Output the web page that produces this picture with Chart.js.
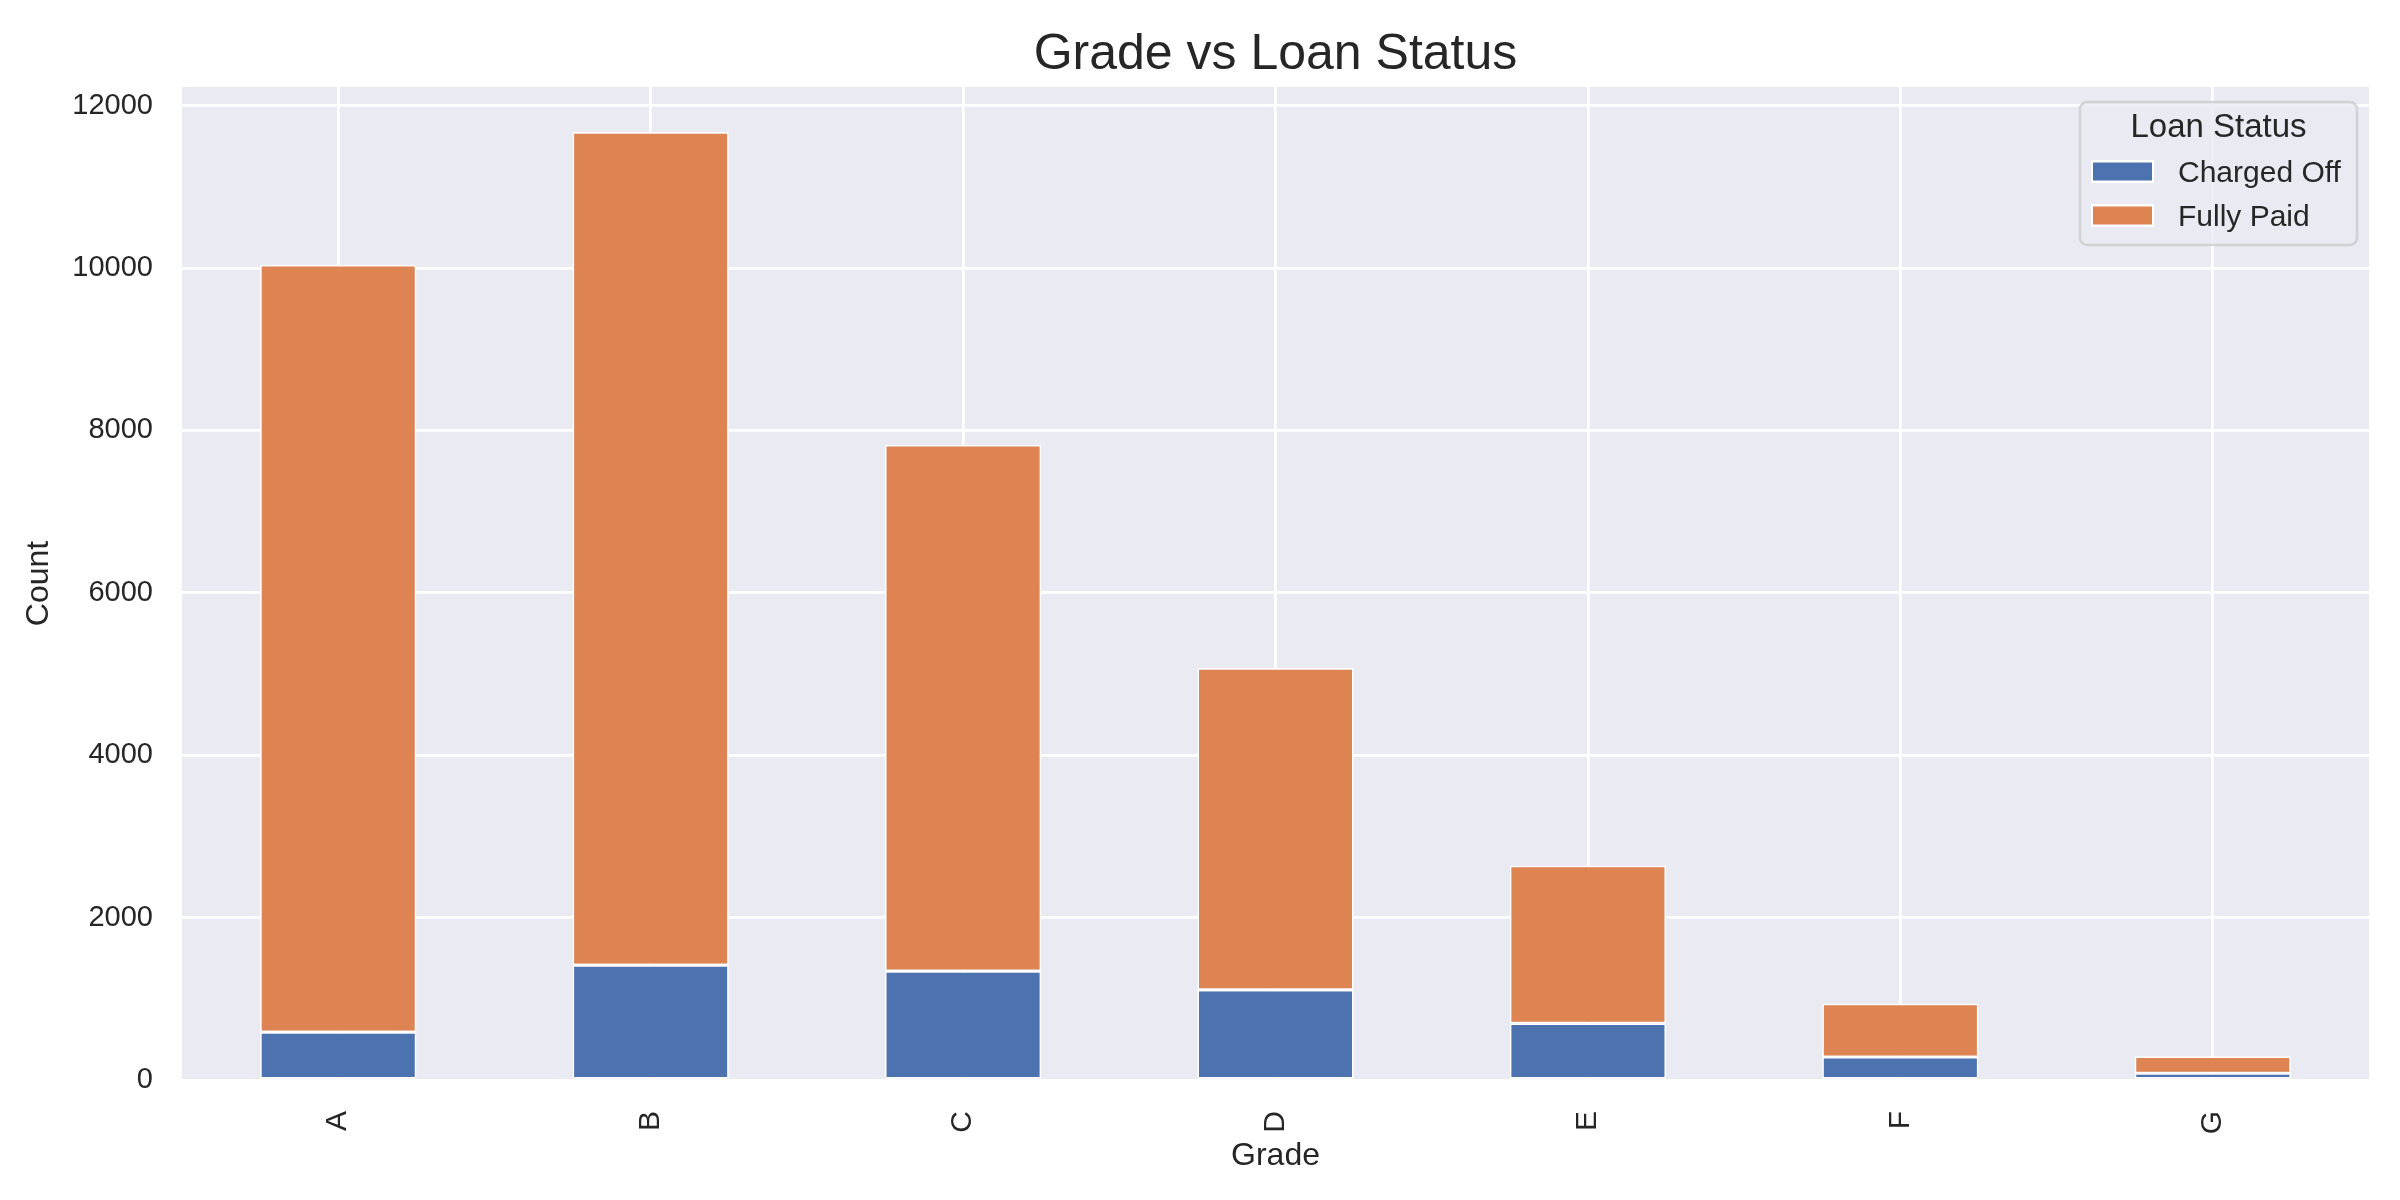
<!DOCTYPE html>
<html>
<head>
<meta charset="utf-8">
<script src="https://cdn.jsdelivr.net/npm/chart.js@4.4.1/dist/chart.umd.min.js"></script>
<style>
  html, body { margin: 0; padding: 0; background: #ffffff; }
  #wrap { width: 2400px; height: 1200px; }
  canvas { display: block; }
</style>
</head>
<body>
<div id="wrap"><canvas id="c" width="2400" height="1200" style="width:2400px;height:1200px"></canvas></div>
<script>
const categories = ['A', 'B', 'C', 'D', 'E', 'F', 'G'];
const chargedOff = [590, 1416, 1342, 1109, 698, 283, 83];
const fullyPaid = [9450, 10259, 6480, 3964, 1943, 657, 209];
const seriesNames = ['Charged Off', 'Fully Paid'];
const chartTitle = 'Grade vs Loan Status';
const legendTitle = 'Loan Status';
const yTickValues = [0, 2000, 4000, 6000, 8000, 10000, 12000];
const yMax = 12230;

const FONT = '"Liberation Sans", Arial, Helvetica, sans-serif';
const TEXT = '#262626';
const BLUE = '#4C72B0';
const ORANGE = '#DD8452';
const BG = '#EAEAF2';

const bgPlugin = {
  id: 'plotBg',
  beforeDraw(chart) {
    const { ctx, chartArea: a } = chart;
    ctx.save();
    ctx.fillStyle = BG;
    ctx.fillRect(a.left, a.top, a.right - a.left, a.bottom - a.top);
    ctx.restore();
  }
};

const titlePlugin = {
  id: 'axesTitle',
  afterDraw(chart) {
    const { ctx, chartArea: a } = chart;
    ctx.save();
    ctx.fillStyle = TEXT;
    ctx.font = '50px ' + FONT;
    ctx.textAlign = 'center';
    ctx.textBaseline = 'alphabetic';
    ctx.fillText(chartTitle, (a.left + a.right) / 2, 69);
    ctx.restore();
  }
};

const legendPlugin = {
  id: 'mplLegend',
  afterDraw(chart) {
    const { ctx, chartArea: a } = chart;
    const w = 277, h = 143;
    const x = a.right - 12 - w, y = a.top + 15;
    ctx.save();
    ctx.beginPath();
    ctx.roundRect(x, y, w, h, 7);
    ctx.fillStyle = 'rgba(234,234,242,0.8)';
    ctx.fill();
    ctx.lineWidth = 2.5;
    ctx.strokeStyle = 'rgba(204,204,204,0.8)';
    ctx.stroke();
    ctx.fillStyle = TEXT;
    ctx.textBaseline = 'alphabetic';
    ctx.textAlign = 'center';
    ctx.font = '33px ' + FONT;
    ctx.fillText(legendTitle, x + w / 2, y + 35);
    ctx.textAlign = 'left';
    ctx.font = '30px ' + FONT;
    chart.data.datasets.forEach((ds, i) => {
      const py = y + 58 + i * 44;
      ctx.fillStyle = '#ffffff';
      ctx.fillRect(x + 11, py, 63, 23);
      ctx.fillStyle = ds.backgroundColor;
      ctx.fillRect(x + 13, py + 2.5, 59, 18);
      ctx.fillStyle = TEXT;
      ctx.fillText(ds.label, x + 98, py + 22);
    });
    ctx.restore();
  }
};

new Chart(document.getElementById('c'), {
  type: 'bar',
  data: {
    labels: categories,
    datasets: [
      { label: seriesNames[0], data: chargedOff, backgroundColor: BLUE, borderColor: '#ffffff', borderWidth: 1.6, borderSkipped: false, stack: 's' },
      { label: seriesNames[1], data: fullyPaid, backgroundColor: ORANGE, borderColor: '#ffffff', borderWidth: 1.6, borderSkipped: false, stack: 's' }
    ]
  },
  options: {
    responsive: false,
    animation: false,
    devicePixelRatio: 1,
    layout: { padding: { left: 0, right: 31, top: 87, bottom: 0 } },
    datasets: { bar: { barPercentage: 0.5, categoryPercentage: 1.0 } },
    plugins: {
      legend: { display: false },
      tooltip: { enabled: false },
      title: { display: false }
    },
    scales: {
      x: {
        stacked: true,
        offset: true,
        grid: { color: '#ffffff', lineWidth: 2.7, offset: false, drawTicks: false },
        border: { display: false },
        ticks: {
          color: TEXT,
          font: { family: FONT, size: 30 },
          minRotation: 90,
          maxRotation: 90,
          padding: 31
        },
        title: {
          display: true,
          text: 'Grade',
          color: TEXT,
          font: { family: FONT, size: 32 },
          padding: { top: 0, bottom: 25 }
        },
        afterFit(scale) { scale.height = 120; }
      },
      y: {
        stacked: true,
        min: 0,
        max: yMax,
        grid: { color: '#ffffff', lineWidth: 2.7, drawTicks: false },
        border: { display: false },
        afterBuildTicks(scale) {
          scale.ticks = yTickValues.map(v => ({ value: v }));
        },
        ticks: {
          autoSkip: false,
          color: TEXT,
          font: { family: FONT, size: 29 },
          padding: 29,
          callback: (v) => String(v)
        },
        title: {
          display: true,
          text: 'Count',
          color: TEXT,
          font: { family: FONT, size: 32 },
          padding: { top: 20, bottom: 0 }
        },
        afterFit(scale) { scale.width = 182; }
      }
    }
  },
  plugins: [bgPlugin, titlePlugin, legendPlugin]
});
</script>
</body>
</html>
